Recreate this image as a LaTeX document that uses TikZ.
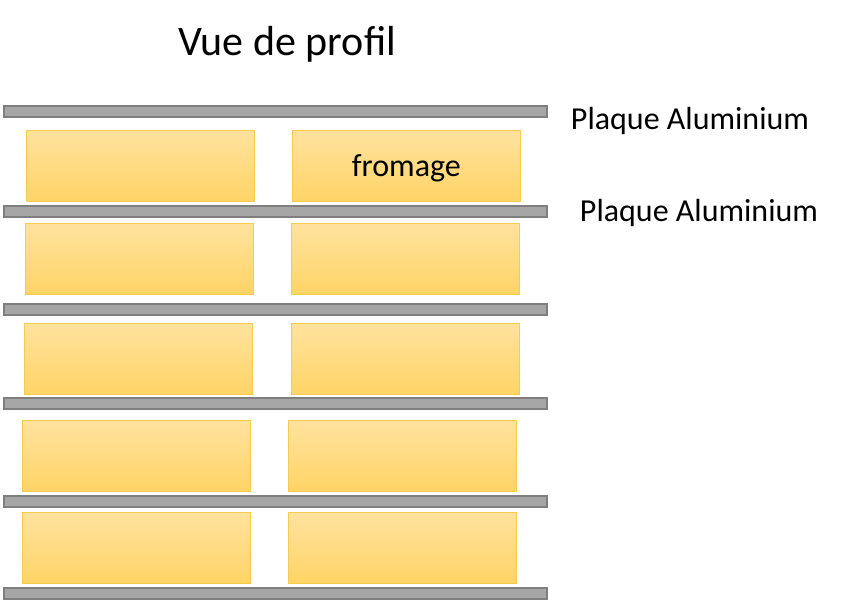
\documentclass[tikz,border=0pt]{standalone}
\usepackage{fontspec}
\setmainfont{Carlito}
\definecolor{plaquefill}{HTML}{A6A6A6}
\definecolor{plaqueline}{HTML}{7F7F7F}
\definecolor{fromagetop}{HTML}{FFE29E}
\definecolor{fromagebot}{HTML}{FFD466}
\definecolor{fromageline}{HTML}{F7CB4D}
\tikzset{every picture/.style={line width=0.75pt}}
\tikzset{
	plaque/.style={draw=plaqueline, fill=plaquefill, line width=1.5pt, inner sep=0pt, anchor=north west, minimum width=543, minimum height=11},
	fromagebox/.style={draw=fromageline, top color=fromagetop, bottom color=fromagebot, inner sep=0pt, anchor=north west, minimum width=228, minimum height=71},
	etiquette/.style={inner sep=0.75pt, font=\fontsize{32}{38}\selectfont}
}

\begin{document}
\begin{tikzpicture}[x=1pt,y=1pt,yscale=-1,xscale=1]
	\useasboundingbox (0,0) rectangle (860,600);
	
	%Plaques
	\foreach \y [count=\i] in {105,205,303,397,495,587} {
		\node [plaque] (p\i) at (3,\y) {};
	}
	%Fromages
	\foreach \y/\xl/\xr [count=\i] in {130/26/292,223/25/291,323/24/291,420/22/288,512/22/288} {
		\node [fromagebox] (fg\i) at (\xl,\y) {};
		\node [fromagebox] (fd\i) at (\xr,\y) {};
	}
	% Text Node
	\node [etiquette, yshift=-2pt] (txtfromage) at (fd1.center) {fromage};
	% Text Node
	\node [etiquette, font=\fontsize{42}{50}\selectfont] (titre) at (287,44) {Vue de profil};
	% Text Node
	\node [etiquette] (alu1) at (690,121) {Plaque Aluminium};
	% Text Node
	\node [etiquette] (alu2) at (699,213) {Plaque Aluminium};
	
\end{tikzpicture}
\end{document}
